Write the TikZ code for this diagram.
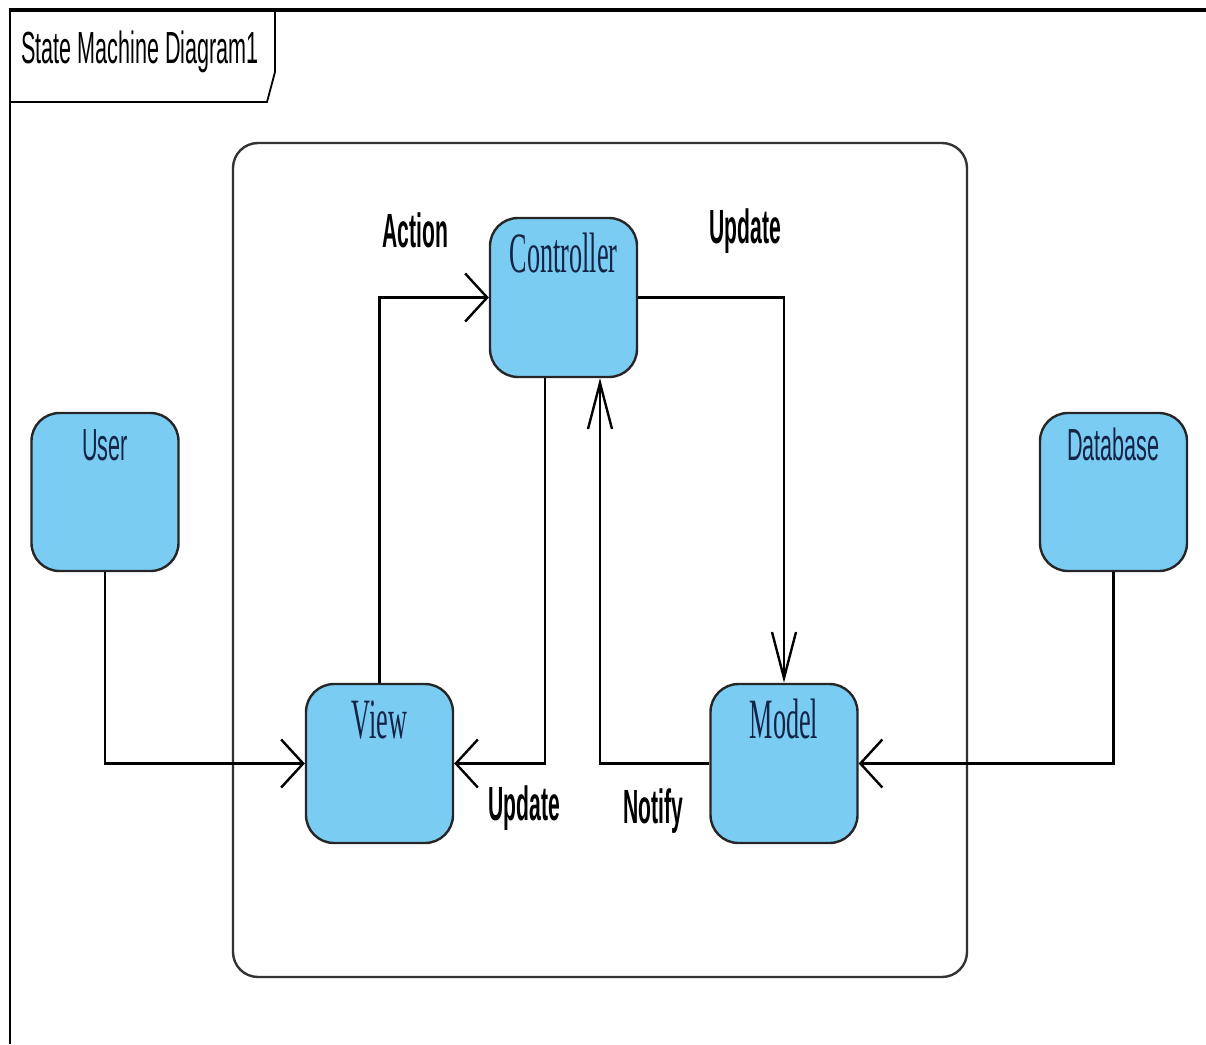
\documentclass[tikz,border=0pt]{standalone}
\usepackage{fontspec}
\usepackage{tikz}
\usetikzlibrary{arrows.meta}

\newfontfamily\titlefont[FakeStretch=0.48]{Liberation Sans}
\newfontfamily\msgfont[FakeStretch=0.44]{Liberation Sans}
\newfontfamily\statefont[FakeStretch=0.46]{Liberation Serif}
\definecolor{statefill}{RGB}{122,204,242}
\definecolor{statetext}{RGB}{20,35,70}

\begin{document}
\begin{tikzpicture}
		[x=1pt,y=-1pt,
		state/.style={draw=black!85,line width=2.4pt,fill=statefill,rounded corners=28pt,
			minimum width=147pt,inner xsep=0pt,inner ysep=0pt,text height=54pt,text depth=105pt,
			text=statetext,font=\statefont\fontsize{57}{57}\selectfont},
		actor/.style={state,text height=47pt,text depth=111pt,font=\titlefont\fontsize{45}{45}\selectfont},
		msg/.style={anchor=base,inner sep=0pt,font=\msgfont\bfseries\fontsize{48}{48}\selectfont},
		hflow/.style={line width=2.4pt,-{Straight Barb[length=22pt,width=48pt]}},
		vflow/.style={line width=2.4pt,-{Straight Barb[length=46pt,width=24pt]}}]
		\useasboundingbox (0,0) rectangle (1206,1044);
		
		% frame and its tab
		\draw[line width=1.8pt] (10,10) -- (10,1044);
		\draw[line width=3.5pt] (8.5,10) -- (1206,10);
		\draw[line width=1.8pt] (10,102) -- (267,102) -- (275,72) -- (275,10);
		\node[anchor=base west,inner sep=0pt,font=\titlefont\fontsize{45}{45}\selectfont] (title) at (21,63) {State Machine Diagram1};
		
		\node[draw=black!80,line width=2.4pt,rounded corners=25pt,minimum width=734pt,minimum height=834pt] (mvc) at (600,560) {};
		
		\node[actor] (user) at (105,492) {User};
		\node[actor] (db) at (1113.5,492) {Database};
		\node[state] (ctrl) at (563.5,297.5) {Controller};
		\node[state] (view) at (379.5,763.5) {View};
		\node[state] (model) at (784,763.5) {Model};
		
		\coordinate (cout) at ([xshift=-18.5pt]ctrl.south);
		\coordinate (cin) at ([xshift=36.5pt]ctrl.south);
		
		\foreach \from/\to in
		{user.south/view.west, view.north/ctrl.west, cout/view.east, db.south/model.east}
		\draw[hflow] (\from) |- (\to);
		\draw[vflow] (ctrl.east) -| (model.north);
		\draw[vflow] (model.west) -| (cin);
		
		\node[msg] (action) at (415.5,247) {Action};
		\node[msg] (upd1) at (745,243) {Update};
		\node[msg] (upd2) at (524,820) {Update};
		\node[msg] (notify) at (653.5,823) {Notify};
\end{tikzpicture}
\end{document}
